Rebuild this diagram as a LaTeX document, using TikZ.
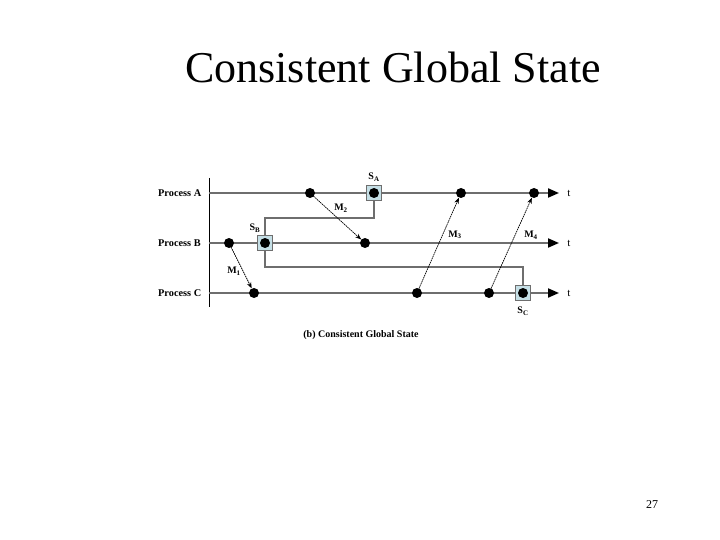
\documentclass[tikz,border=0pt]{standalone}
\usepackage{fontspec}
\setmainfont{Liberation Serif}
\usetikzlibrary{arrows.meta}
\definecolor{procgray}{HTML}{6E6E6E}
\definecolor{boxfill}{HTML}{C5DFE6}
\begin{document}
\begin{tikzpicture}[x=1pt,y=-1pt,
  proc/.style={draw=procgray,line width=2pt},
  tarrow/.style={proc,-{Triangle[length=11pt,width=9pt,color=black]}},
  snapline/.style={draw=procgray,line width=1.5pt},
  ev/.style={circle,fill=black,inner sep=0pt,minimum size=10pt},
  snap/.style={rectangle,draw=procgray,fill=boxfill,line width=1pt,minimum size=15pt,inner sep=0pt},
  msg/.style={draw=black,line width=0.7pt,dash pattern=on 1.6pt off 0.7pt,-{Stealth[length=6pt,width=4.5pt]}},
  plabel/.style={font=\bfseries\fontsize{10.3}{12}\selectfont,anchor=west,inner sep=0pt},
  mlabel/.style={font=\bfseries\fontsize{10}{12}\selectfont,inner sep=0pt}]
\useasboundingbox (0,0) rectangle (720,540);
% title
\node[font=\fontsize{44}{50}\selectfont] (title) at (393,67) {Consistent Global State};
% axis
\coordinate (ytop) at (209,178);
\coordinate (ybot) at (209,307);
\draw[black,line width=1pt] (ytop) -- (ybot);
% process labels
\node[plabel] (pa) at (158,193) {Process A};
\node[plabel] (pb) at (158,243) {Process B};
\node[plabel] (pc) at (158,293) {Process C};
% process lines
\coordinate (a0) at (209,193); \coordinate (a1) at (559,193);
\coordinate (b0) at (209,243); \coordinate (b1) at (559,243);
\coordinate (c0) at (209,293); \coordinate (c1) at (559,293);
\draw[tarrow] (a0) -- (a1);
\draw[tarrow] (b0) -- (b1);
\draw[tarrow] (c0) -- (c1);
\node[font=\fontsize{11}{12}\selectfont] (ta) at (569,193) {t};
\node[font=\fontsize{11}{12}\selectfont] (tb) at (569,243) {t};
\node[font=\fontsize{11}{12}\selectfont] (tc) at (569,293) {t};
% snapshot connectors
\coordinate (u1) at (374,218);
\coordinate (u2) at (265,218);
\coordinate (l1) at (265,267);
\coordinate (l2) at (523,267);
\draw[snapline] (374,193) -- (u1) -- (u2) -- (l1) -- (l2) -- (523,293);
% snapshot boxes
\node[snap] (sa) at (374,193) {};
\node[snap] (sb) at (265,243) {};
\node[snap] (sc) at (523,293) {};
\node[ev] at (sa) {};
\node[ev] at (sb) {};
\node[ev] at (sc) {};
\node[mlabel] (lsa) at (374,177) {S\textsubscript{A}};
\node[mlabel] (lsb) at (255,228) {S\textsubscript{B}};
\node[mlabel] (lsc) at (523,311) {S\textsubscript{C}};
% events
\node[ev] (ea1) at (310,193) {};
\node[ev] (ea2) at (461,193) {};
\node[ev] (ea3) at (534,193) {};
\node[ev] (eb1) at (229,243) {};
\node[ev] (eb2) at (365,243) {};
\node[ev] (ec1) at (254,293) {};
\node[ev] (ec2) at (417,293) {};
\node[ev] (ec3) at (489,293) {};
% messages
\draw[msg] (eb1.center) -- (ec1);
\draw[msg] (ea1.center) -- (eb2);
\draw[msg] (ec2.center) -- (ea2);
\draw[msg] (ec3.center) -- (ea3);
\node[mlabel] (m1) at (234,271) {M\textsubscript{1}};
\node[mlabel] (m2) at (341,208) {M\textsubscript{2}};
\node[mlabel] (m3) at (455,235) {M\textsubscript{3}};
\node[mlabel] (m4) at (531,235) {M\textsubscript{4}};
% caption
\node[mlabel] (cap) at (361,335) {(b) Consistent Global State};
% page number
\node[font=\fontsize{12}{14}\selectfont] (pg) at (652,505) {27};
\end{tikzpicture}
\end{document}
